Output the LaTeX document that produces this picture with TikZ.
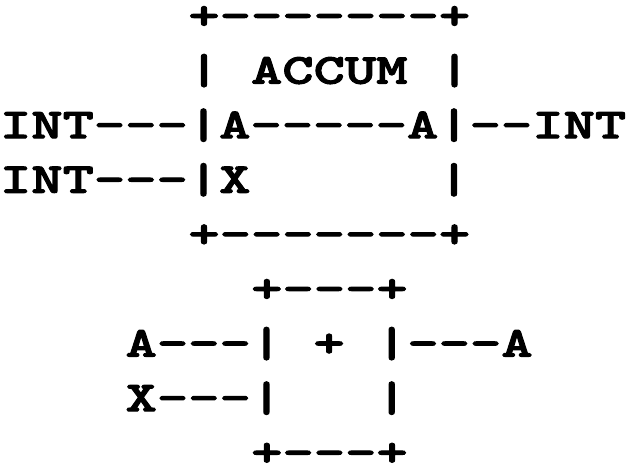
\documentclass[tikz,border=0pt]{standalone}
\usepackage{fontspec}
\newfontfamily\asciifont{lmmonolt10-bold.otf}[FakeStretch=1.4,FakeBold=2.5,Ligatures=TeXOff]
\tikzset{
  asciirow/.style={anchor=base west,inner sep=0pt,outer sep=0pt,
    font=\asciifont\fontsize{21.3}{24}\selectfont}
}
\begin{document}
\begin{tikzpicture}[x=15.7pt,y=27.3pt]
  \useasboundingbox (0,0) rectangle (20,-8.608);
  % ACCUM block
  \node[asciirow] (accumtop) at (6,-0.531) {+-------+};
  \node[asciirow] (accumname) at (6,-1.531) {|~ACCUM~|};
  \node[asciirow] (accumin) at (0,-2.531) {INT---|A-----A|--INT};
  \node[asciirow] (accumx) at (0,-3.531) {INT---|X~~~~~~|};
  \node[asciirow] (accumbot) at (6,-4.531) {+-------+};
  % adder block
  \node[asciirow] (addtop) at (8,-5.531) {+---+};
  \node[asciirow] (adda) at (4,-6.531) {A---|~+~|---A};
  \node[asciirow] (addx) at (4,-7.531) {X---|~~~|};
  \node[asciirow] (addbot) at (8,-8.531) {+---+};
\end{tikzpicture}
\end{document}
